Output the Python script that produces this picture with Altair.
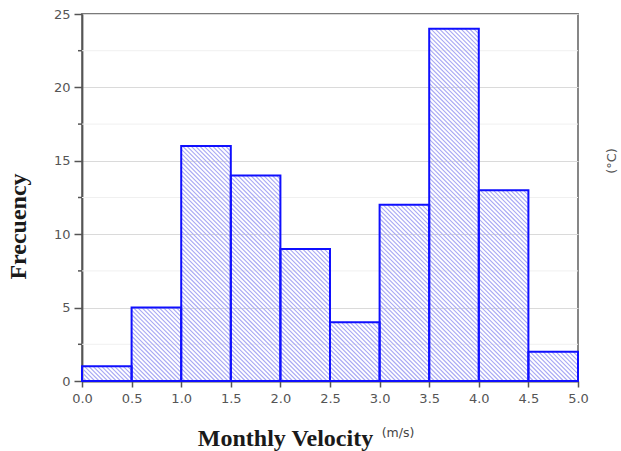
import altair as alt
import numpy as np
import pandas as pd

# Histogram bins (m/s) and counts
bin_start = [0.0, 0.5, 1.0, 1.5, 2.0, 2.5, 3.0, 3.5, 4.0, 4.5]
bin_end = [0.5, 1.0, 1.5, 2.0, 2.5, 3.0, 3.5, 4.0, 4.5, 5.0]
freq = [1, 5, 16, 14, 9, 4, 12, 24, 13, 2]

x_ticks = [0.0, 0.5, 1.0, 1.5, 2.0, 2.5, 3.0, 3.5, 4.0, 4.5, 5.0]
y_ticks = [0, 5, 10, 15, 20, 25]
y_minor = [2.5, 7.5, 12.5, 17.5, 22.5]

W, H = 496, 367
X_MAX, Y_MAX = 5.0, 25.0

bars = pd.DataFrame({"start": bin_start, "end": bin_end, "freq": freq})

# Diagonal hatch segments clipped to each bar, spaced evenly in screen pixels
px_x, px_y = W / X_MAX, H / Y_MAX
step = 4.3
segs = []
for x0, x1, h in zip(bin_start, bin_end, freq):
    X0, X1, Hp = x0 * px_x, x1 * px_x, h * px_y
    c = np.ceil(X0 / step) * step
    while c < X1 + Hp:
        xa = max(X0, c - Hp)
        ya = c - xa
        xb = min(X1, c)
        yb = c - xb
        segs.append({"x": xa / px_x, "y": ya / px_y, "x2": xb / px_x, "y2": yb / px_y})
        c += step
hatch = pd.DataFrame(segs)

xs = alt.Scale(domain=[0, X_MAX], nice=False, zero=False)
ys = alt.Scale(domain=[0, Y_MAX], nice=False)

x_axis = alt.Axis(
    values=x_ticks,
    format=".1f",
    title="Monthly Velocity",
    grid=False,
    tickSize=6,
    labelPadding=5,
    labelFlush=False,
    titleX=203,
    titleY=64,
    titleAlign="center",
    titleBaseline="alphabetic",
)
y_axis = alt.Axis(
    values=y_ticks,
    title="Frecuency",
    grid=True,
    gridColor="#dadada",
    gridWidth=1.2,
    tickSize=8,
    labelPadding=4,
    labelFlush=False,
    titleX=-64,
    titleY=212,
    titleAngle=270,
    titleAlign="center",
    titleBaseline="middle",
)

bar_layer = alt.Chart(bars).mark_rect(
    fill="#ffffff", fillOpacity=0, stroke="#0f0fff", strokeWidth=2
).encode(
    x=alt.X("start:Q", scale=xs, axis=x_axis),
    x2="end:Q",
    y=alt.Y("freq:Q", scale=ys, axis=y_axis),
    y2=alt.datum(0),
)

minor_grid = alt.Chart(pd.DataFrame({"v": y_minor})).mark_rule(
    color="#f0f0f0", strokeWidth=1
).encode(y=alt.Y("v:Q", scale=ys, axis=y_axis))

minor_ticks = alt.Chart(pd.DataFrame({"v": y_minor})).mark_rule(
    color="#555555", strokeWidth=1.5, clip=False
).encode(y=alt.Y("v:Q", scale=ys, axis=y_axis), x=alt.value(-4), x2=alt.value(0))

hatch_layer = alt.Chart(hatch).mark_rule(color="#a8a8f4", strokeWidth=1.1).encode(
    x=alt.X("x:Q", scale=xs, axis=x_axis),
    x2="x2:Q",
    y=alt.Y("y:Q", scale=ys, axis=y_axis),
    y2="y2:Q",
)

unit_ms = alt.Chart(pd.DataFrame({"t": ["(m/s)"]})).mark_text(
    font="DejaVu Sans", fontSize=12.5, color="#444444", align="center", baseline="middle"
).encode(text="t:N", x=alt.value(316), y=alt.value(419))

unit_c = alt.Chart(pd.DataFrame({"t": ["(°C)"]})).mark_text(
    font="DejaVu Sans", fontSize=13, color="#555555", align="center", baseline="middle",
    angle=270,
).encode(text="t:N", x=alt.value(530), y=alt.value(147))

chart = (
    alt.layer(minor_grid, minor_ticks, hatch_layer, bar_layer, unit_ms, unit_c)
    .properties(
        width=W,
        height=H,
        autosize=alt.AutoSizeParams(type="none"),
        padding={"left": 82, "top": 14, "right": 43, "bottom": 70},
        background="#ffffff",
    )
    .configure_view(stroke="#7a7a7a", strokeWidth=1.8)
    .configure_axis(
        domainColor="#555555",
        domainWidth=1.8,
        tickColor="#555555",
        tickWidth=1.5,
        labelFont="DejaVu Sans",
        labelFontSize=13,
        labelColor="#555555",
        titleFont="Liberation Serif",
        titleFontSize=24,
        titleFontWeight="bold",
        titleColor="#1a1a1a",
    )
)

chart.save("out.html", embed_options={"renderer": "svg", "actions": False})
